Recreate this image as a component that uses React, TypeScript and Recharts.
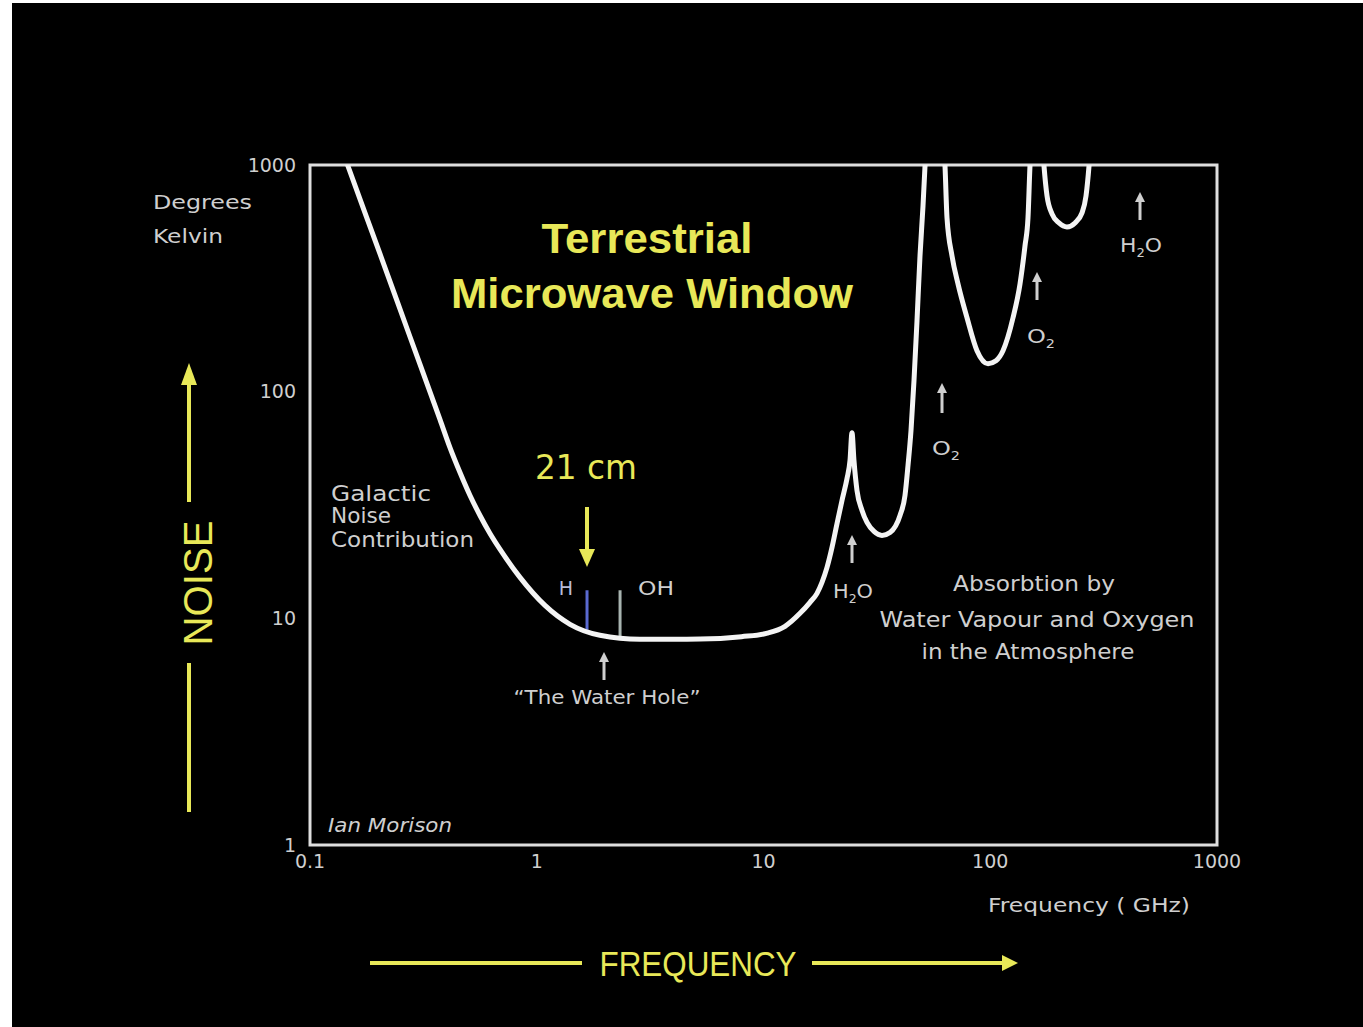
import React from 'react'
import { LineChart, Line, XAxis, YAxis, ReferenceArea, ReferenceLine } from 'recharts'

// sky noise temperature (K) against frequency (GHz)
const freqGHz = [
  0.1225, 0.147, 0.2036, 0.276, 0.3745, 0.4143, 0.4587, 0.5078, 0.562, 0.622, 0.689, 0.8435, 1.087, 1.402, 1.9,
  2.85, 5.25, 8.0, 10.4,
  12.44, 14.49, 16.04, 17.22, 18.11, 19.06, 20.05, 21.1, 22.19, 23.35, 24.07, 24.56, 25.06, 25.84, 27.2, 28.61,
  30.72, 33.31, 36.14, 39.99, 42.07, 43.38, 44.72, 46.1, 47.53, 49.0, 50.52, 51.56, 52.62,
  57,
  61.27, 63.16, 64.46, 67.81, 72.07, 78.98, 87.41, 97.75, 106.0, 113.8, 126.0, 135.3, 142.3, 146.7, 149.7, 154.4,
  160,
  167.4, 172.6, 178.0, 187.2, 201.0, 218.0, 236.5, 253.9, 264.4, 272.6, 281.0,
]
const noiseK = [
  1644, 990, 405, 174.7, 75.3, 56.66, 43.98, 34.83, 28.43, 23.68, 20.14, 15.16, 11.4, 9.41, 8.42,
  8.08, 8.1, 8.3, 8.6,
  9.22, 10.52, 11.77, 12.89, 14.41, 16.78, 20.55, 26.21, 33.1, 41.38, 49.66, 65.96, 49.66, 36.64, 29.91, 26.48,
  24.17, 23.21, 23.92, 28.43, 34.83, 47.21, 67.33, 111.8, 205.5, 397.3, 659.9, 990, 1563,
  3000,
  1563, 990, 584.3, 397.3, 299.1, 211.8, 151.6, 132.8, 136.9, 151.6, 211.8, 299.1, 439.8, 584.3, 990, 1563,
  3000,
  1563, 990, 730.1, 608.4, 555.3, 533.2, 555.3, 614.6, 730.1, 990, 1563,
]

const xTicks = [0.1, 1, 10, 100, 1000]
const yTicks = [1, 10, 100, 1000]

// spectral lines near the water hole
const hLine = { f: 1.666, from: 8.9, to: 13.3 }
const ohLine = { f: 2.33, from: 8.2, to: 13.3 }

const data = freqGHz.map((f, i) => ({ f, t: noiseK[i] }))

const GREY = '#cfcfcf'
const YELLOW = '#e8e858'

const Txt = ({ x, y, children, size = 20, anchor = 'start', fill = GREY, len, weight, italic, family = 'DejaVu Sans' }: any) => (
  <text
    x={x}
    y={y}
    fontSize={size}
    fill={fill}
    textAnchor={anchor}
    fontFamily={family}
    fontWeight={weight}
    fontStyle={italic ? 'italic' : undefined}
    textLength={len}
    lengthAdjust={len ? 'spacingAndGlyphs' : undefined}
  >
    {children}
  </text>
)

const UpArrow = ({ x, tip, bottom, color = GREY }: any) => (
  <g>
    <line x1={x} y1={tip + 6} x2={x} y2={bottom} stroke={color} strokeWidth={3} />
    <polygon points={`${x - 5},${tip + 10} ${x + 5},${tip + 10} ${x},${tip}`} fill={color} />
  </g>
)

const Sub = ({ x, y, a, b, c, len }: any) => (
  <text x={x} y={y} fontSize={20} fill={GREY} textAnchor="middle" fontFamily="DejaVu Sans" textLength={len} lengthAdjust="spacingAndGlyphs">
    {a}
    <tspan fontSize={12} dy={5}>{b}</tspan>
    <tspan dy={-5}>{c}</tspan>
  </text>
)

const Overlay = () => (
  <svg width={1363} height={1027} style={{ position: 'absolute', left: 0, top: 0, pointerEvents: 'none' }}>
    <Txt x={153} y={209} len={99}>Degrees</Txt>
    <Txt x={153} y={243} len={70}>Kelvin</Txt>

    <Txt x={647} y={253} size={43} weight="bold" fill={YELLOW} anchor="middle" family="Liberation Sans" len={211}>
      Terrestrial
    </Txt>
    <Txt x={652} y={308} size={43} weight="bold" fill={YELLOW} anchor="middle" family="Liberation Sans" len={402}>
      Microwave Window
    </Txt>

    <Txt x={586} y={479} size={34} fill={YELLOW} anchor="middle" len={102}>21 cm</Txt>
    <line x1={587} y1={507} x2={587} y2={552} stroke={YELLOW} strokeWidth={4} />
    <polygon points="579,549 595,549 587,567" fill={YELLOW} />

    <Txt x={566} y={595} size={19} anchor="middle" fill="#b8bcd8">H</Txt>
    <Txt x={656} y={595} size={19} anchor="middle" len={36}>OH</Txt>

    <Txt x={331} y={501} size={21} len={100}>Galactic</Txt>
    <Txt x={331} y={523} size={21} len={60}>Noise</Txt>
    <Txt x={331} y={547} size={21} len={143}>Contribution</Txt>

    <UpArrow x={604} tip={652} bottom={680} />
    <Txt x={607} y={704} size={19} anchor="middle" len={187}>“The Water Hole”</Txt>

    <UpArrow x={852} tip={535} bottom={563} />
    <Sub x={853} y={598} a="H" b="2" c="O" len={40} />
    <UpArrow x={942} tip={383} bottom={413} />
    <Sub x={946} y={455} a="O" b="2" c="" len={28} />
    <UpArrow x={1037} tip={272} bottom={300} />
    <Sub x={1041} y={343} a="O" b="2" c="" len={28} />
    <UpArrow x={1140} tip={192} bottom={220} />
    <Sub x={1141} y={252} a="H" b="2" c="O" len={42} />

    <Txt x={1034} y={591} size={21} anchor="middle" len={162}>Absorbtion by</Txt>
    <Txt x={1037} y={627} size={21} anchor="middle" len={315}>Water Vapour and Oxygen</Txt>
    <Txt x={1028} y={659} size={21} anchor="middle" len={213}>in the Atmosphere</Txt>

    <Txt x={328} y={832} size={19} italic len={124}>Ian Morison</Txt>
    <Txt x={988} y={912} size={20} len={202}>Frequency ( GHz)</Txt>

    <line x1={189} y1={378} x2={189} y2={502} stroke={YELLOW} strokeWidth={4} />
    <polygon points="181,385 197,385 189,363" fill={YELLOW} />
    <line x1={189} y1={663} x2={189} y2={812} stroke={YELLOW} strokeWidth={4} />
    <text
      transform="translate(212,583) rotate(-90)"
      fontSize={40}
      fill={YELLOW}
      textAnchor="middle"
      fontFamily="Liberation Sans"
      textLength={125}
      lengthAdjust="spacingAndGlyphs"
    >
      NOISE
    </text>

    <line x1={370} y1={963} x2={582} y2={963} stroke={YELLOW} strokeWidth={4} />
    <Txt x={698} y={976} size={35} fill={YELLOW} anchor="middle" family="Liberation Sans" len={197}>FREQUENCY</Txt>
    <line x1={812} y1={963} x2={1004} y2={963} stroke={YELLOW} strokeWidth={4} />
    <polygon points="1002,955 1002,971 1018,963" fill={YELLOW} />
  </svg>
)

const tickStyle = { fill: GREY, fontSize: 19, fontFamily: 'DejaVu Sans' }

export default function App() {
  return (
    <div style={{ position: 'relative', width: 1363, height: 1027, background: '#fff' }}>
      <style>{`body { margin: 0; }`}</style>
      <div style={{ position: 'absolute', left: 12, top: 3, right: 0, bottom: 0, background: '#000' }} />
      <div style={{ position: 'absolute', left: 0, top: 0 }}>
        <LineChart width={1363} height={1027} data={data} margin={{ top: 165, right: 146, bottom: 152, left: 250 }}>
          <XAxis
            dataKey="f"
            type="number"
            scale="log"
            domain={[0.1, 1000]}
            ticks={xTicks}
            allowDataOverflow
            axisLine={false}
            tickLine={false}
            tickSize={0}
            tickMargin={10}
            height={30}
            tick={tickStyle}
            tickFormatter={(v: number) => String(v)}
          />
          <YAxis
            type="number"
            scale="log"
            domain={[1, 1000]}
            ticks={yTicks}
            allowDataOverflow
            axisLine={false}
            tickLine={false}
            tickSize={0}
            tickMargin={14}
            width={60}
            tick={tickStyle}
            tickFormatter={(v: number) => String(v)}
          />
          <ReferenceArea x1={0.1} x2={1000} y1={1} y2={1000} fill="none" stroke="#dedede" strokeWidth={3} />
          <ReferenceLine
            segment={[{ x: hLine.f, y: hLine.from }, { x: hLine.f, y: hLine.to }]}
            stroke="#5a6ad0"
            strokeWidth={3}
          />
          <ReferenceLine
            segment={[{ x: ohLine.f, y: ohLine.from }, { x: ohLine.f, y: ohLine.to }]}
            stroke="#a8b4b0"
            strokeWidth={3}
          />
          <Line
            dataKey="t"
            type="monotone"
            stroke="#f4f4f4"
            strokeWidth={5}
            dot={false}
            isAnimationActive={false}
          />
        </LineChart>
      </div>
      <Overlay />
    </div>
  )
}
